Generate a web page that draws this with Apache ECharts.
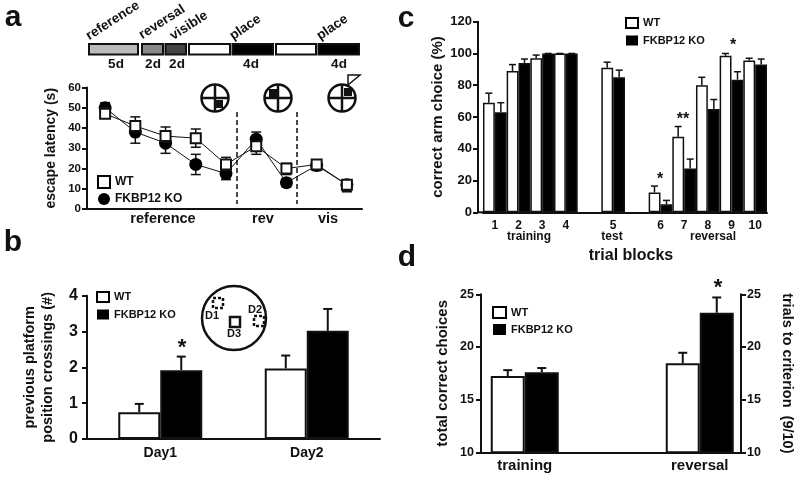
<!DOCTYPE html>
<html>
<head>
<meta charset="utf-8">
<style>html,body{margin:0;padding:0;background:#fff}#c{width:800px;height:477px}</style>
<script src="https://cdn.jsdelivr.net/npm/echarts@6/dist/echarts.min.js"></script>
</head>
<body>
<div id="c"></div>
<script>
// Panel a
const aDays = ['1','2','3','4','5','6','7','8','9'];
const aWT   = [47, 41, 36, 35, 22, 31, 20, 22, 12];
const aWTHi = [50, 45.5, 40.5, 39.5, 25.5, 33.5, 22.5, 24, 13];
const aWTLo = [45, 38, 33, 30.5, 19, 27, 17, 19.5, 9];
const aKO   = [50, 38, 32.5, 22, 17.5, 34.5, 13, 21.5, 12];
const aKOHi = [52.5, 41, 36, 27, 20, 38, 15, 24, 13.5];
const aKOLo = [47.5, 32.5, 27.5, 17, 14.5, 31, 11, 19, 8.5];
// Panel b
const bCats = ['Day1', 'Day2'];
const bWT   = [0.75, 1.97];
const bKO   = [1.92, 3.02];
const bWTHi = [0.98, 2.33];
const bKOHi = [2.3, 3.63];
// Panel c
const cCats = ['1','2','3','4','','5','','6','7','8','9','10'];
const cWT   = [69, 89, 97, 100, null, 91, null, 12.5, 47.5, 80, 98.5, 95.5];
const cKO   = [63, 94, 100, 100, null, 85, null, 5, 27.5, 65, 83.5, 93];
const cWTHi = [75, 93, 99, 100, null, 94.5, null, 16.5, 54, 85, 100, 97];
const cKOHi = [69, 96.5, 100, 100, null, 89.5, null, 7.5, 33.5, 71, 88.5, 96.5];
// Panel d
const dCats = ['', 'training', '', '', '', 'reversal', ''];
const dWT   = [null, 17.25, null, null, null, 18.45, null];
const dKO   = [null, 17.6, null, null, null, 23.25, null];
const dWTHi = [null, 17.8, null, null, null, 19.45, null];
const dKOHi = [null, 18, null, null, null, 24.7, null];

const FONT = '"Liberation Sans", Arial, sans-serif';
const INK = '#111';
const chart = echarts.init(document.getElementById('c'), null, {renderer: 'canvas'});

function errSeries(idx, low, high, dx, cap, lw, z) {
  const data = high.map((h, i) => [i, low ? low[i] : null, h, i]);
  return {
    type: 'custom', name: 'err', xAxisIndex: idx, yAxisIndex: idx, z: z, silent: true,
    data: data.filter(d => d[2] !== null),
    encode: {x: 0, y: [1, 2]},
    renderItem: function (params, api) {
      const i = api.value(0), hi = api.value(2), lo = api.value(1);
      const top = api.coord([i, hi]);
      const x = top[0] + dx;
      let lowY;
      if (low) { lowY = api.coord([i, lo])[1]; }
      else { lowY = api.coord([i, api.value(4)])[1]; }
      const st = {stroke: INK, lineWidth: lw, fill: null};
      const kids = [
        {type: 'line', shape: {x1: x, y1: top[1], x2: x, y2: lowY}, style: st},
        {type: 'line', shape: {x1: x - cap, y1: top[1], x2: x + cap, y2: top[1]}, style: st}
      ];
      if (low) kids.push({type: 'line', shape: {x1: x - cap, y1: lowY, x2: x + cap, y2: lowY}, style: st});
      return {type: 'group', children: kids};
    }
  };
}
function barErr(idx, vals, high, dx, cap, lw) {
  const data = high.map((h, i) => [i, null, h, i, vals[i]]).filter(d => d[2] !== null);
  const s = errSeries(idx, null, high, dx, cap, lw, 1);
  s.data = data;
  return s;
}
function barSeries(name, idx, vals, fill, w, bw) {
  return {
    type: 'bar', name: name, xAxisIndex: idx, yAxisIndex: idx, data: vals, barWidth: w, barGap: 0, z: 2,
    itemStyle: {color: fill, borderColor: INK, borderWidth: bw}
  };
}
function lineSeries(name, vals, sym, z) {
  return {
    type: 'line', name: name, xAxisIndex: 0, yAxisIndex: 0, data: vals, symbol: sym, symbolSize: sym === 'rect' ? 10 : 13, z: z,
    showAllSymbol: true, animation: false,
    lineStyle: {color: INK, width: 1},
    itemStyle: {color: sym === 'rect' ? '#fff' : '#000', borderColor: INK, borderWidth: sym === 'rect' ? 2 : 0}
  };
}
function yA(gridIndex, min, max, interval, size, margin, name, nameGap, nameSize, extra) {
  return Object.assign({
    type: 'value', gridIndex, min, max, interval,
    splitLine: {show: false},
    axisLine: {show: true, lineStyle: {color: INK, width: 2}},
    axisTick: {show: true, length: 5, lineStyle: {color: INK, width: 2}},
    axisLabel: {color: INK, fontFamily: FONT, fontWeight: 'bold', fontSize: size, margin: margin},
    name, nameLocation: 'middle', nameRotate: 90, nameGap,
    nameTextStyle: {color: INK, fontFamily: FONT, fontWeight: 'bold', fontSize: nameSize, lineHeight: 18}
  }, extra || {});
}
function xA(gridIndex, cats, size, margin, extra) {
  return Object.assign({
    type: 'category', gridIndex, data: cats,
    axisLine: {show: true, onZero: false, lineStyle: {color: INK, width: 2}},
    axisTick: {show: false},
    axisLabel: {show: size > 0, interval: 0, color: INK, fontFamily: FONT, fontWeight: 'bold', fontSize: size, margin: margin},
    splitLine: {show: false}
  }, extra || {});
}
function legendOf(left, top, w, h, gap, size, koIcon) {
  return {
    left, top, orient: 'vertical', itemWidth: w, itemHeight: h, itemGap: gap, selectedMode: false, padding: 0,
    textStyle: {color: INK, fontFamily: FONT, fontWeight: 'bold', fontSize: size},
    data: [
      {name: 'WT', icon: 'rect', itemStyle: {color: '#fff', borderColor: '#000', borderWidth: 2}},
      {name: 'FKBP12 KO', icon: koIcon, itemStyle: {color: '#000', borderColor: '#000', borderWidth: 0}}
    ]
  };
}
// decoration helpers
function T(text, x, y, size, opt) {
  opt = opt || {};
  return {type: 'text', x, y, rotation: opt.rot || 0, z: 20, silent: true,
    style: {text, fill: INK, font: (opt.weight || 'bold') + ' ' + size + 'px ' + FONT,
      align: opt.align || 'center', verticalAlign: opt.va || 'middle'}};
}
function R(x, y, w, h, fill, lw, dash) {
  return {type: 'rect', z: 20, silent: true, shape: {x, y, width: w, height: h},
    style: {fill, stroke: lw ? INK : null, lineWidth: lw || 0, lineDash: dash || null}};
}
function L(x1, y1, x2, y2, lw, dash) {
  return {type: 'line', z: 20, silent: true, shape: {x1, y1, x2, y2},
    style: {stroke: INK, lineWidth: lw, lineDash: dash || null}};
}
function Maze(cx, cy, r, sx, sy) {
  return [
    {type: 'circle', z: 20, silent: true, shape: {cx, cy, r}, style: {fill: '#fff', stroke: INK, lineWidth: 2.5}},
    L(cx - r, cy, cx + r, cy, 2.5), L(cx, cy - r, cx, cy + r, 2.5),
    R(sx - 4, sy - 4, 8, 8, '#111')
  ];
}
const graphics = [
  T('a', 13, 18, 30), T('b', 13, 243, 30), T('c', 406, 19, 30), T('d', 407, 258, 30),
  // schedule
  R(89, 44, 49, 10.5, '#bbb', 2), R(142, 44, 21, 10.5, '#888', 2), R(165.5, 44, 20.5, 10.5, '#444', 2),
  R(189, 44, 41, 10.5, '#fff', 2), R(232.5, 44, 40.5, 10.5, '#000', 2),
  R(276, 44, 40, 10.5, '#fff', 2), R(318.5, 44, 40.5, 10.5, '#000', 2),
  T('reference', 91, 43, 13.5, {rot: 0.57, align: 'left', va: 'bottom'}),
  T('reversal', 144, 42, 13.5, {rot: 0.57, align: 'left', va: 'bottom'}),
  T('visible', 175, 43, 13.5, {rot: 0.57, align: 'left', va: 'bottom'}),
  T('place', 235, 43, 13.5, {rot: 0.6, align: 'left', va: 'bottom'}),
  T('place', 322, 43, 13.5, {rot: 0.6, align: 'left', va: 'bottom'}),
  T('5d', 116, 64, 13.5), T('2d', 153, 64, 13.5), T('2d', 177, 64, 13.5), T('4d', 251, 64, 13.5), T('4d', 339, 64, 13.5),
  ...Maze(215, 98, 13.5, 219, 104), ...Maze(278, 98, 13.5, 273, 93), ...Maze(342, 98, 13.5, 348, 92),
  {type: 'polygon', z: 20, silent: true, shape: {points: [[348, 75], [360, 75], [348, 85]]}, style: {fill: '#fff', stroke: INK, lineWidth: 1.5}},
  L(237, 112, 237, 204, 1.5, [5, 3]), L(297, 112, 297, 204, 1.5, [5, 3]),
  L(86, 209, 91, 209, 2),
  T('reference', 163, 219, 14.5), T('rev', 263, 219, 14.5), T('vis', 328, 219, 14.5),
  // b inset
  {type: 'circle', z: 20, silent: true, shape: {cx: 234, cy: 318, r: 32}, style: {fill: '#fff', stroke: INK, lineWidth: 2.5}},
  R(213, 298, 10, 10, 'transparent', 2.5, [3, 2]), R(254, 316, 10, 10, 'transparent', 2.5, [3, 2]), R(230, 317, 10, 10, '#fff', 2.5),
  T('D1', 212, 316, 11), T('D2', 255, 310, 11), T('D3', 234, 334, 11),
  T('*', 182, 348, 22),
  // c
  L(477, 212.3, 484, 212.3, 2),
  T('training', 529, 237, 12), T('test', 612, 237, 12), T('reversal', 713, 237, 12),
  T('trial blocks', 631, 256, 16),
  T('*', 660, 180, 16), T('**', 683, 120, 16), T('*', 733, 46, 16),
  // d
  T('*', 718, 288, 22)
];

const option = {
  backgroundColor: '#fff',
  animation: false,
  grid: [
    {left: 90, top: 87.5, width: 272, height: 121.5},
    {left: 87, top: 295.7, width: 293, height: 143.3},
    {left: 483, top: 21.7, width: 284, height: 190.6},
    {left: 481, top: 294.3, width: 262.5, height: 158}
  ],
  xAxis: [
    xA(0, aDays, 0, 0),
    xA(1, bCats, 14, 7),
    xA(2, cCats, 12, 7),
    xA(3, dCats, 15, 6, {boundaryGap: false})
  ],
  yAxis: [
    yA(0, 0, 60, 10, 11.5, 6, 'escape latency (s)', 27, 14, {offset: 3}),
    yA(1, 0, 4, 1, 16, 9, 'previous platform\nposition crossings (#)', 30, 14.5),
    yA(2, 0, 120, 20, 13, 6, 'correct arm choice (%)', 28, 15, {offset: 5}),
    yA(3, 10, 25, 5, 12.5, 7, 'total correct choices', 29, 15),
    yA(3, 10, 25, 5, 12.5, 6, 'trials to criterion  (9/10)', 37, 14.5, {position: 'right', offset: -2.5, nameRotate: -90})
  ],
  legend: [
    legendOf(97, 175, 12, 12, 4, 12, 'circle'),
    legendOf(96, 291, 12, 10, 6, 11, 'rect'),
    legendOf(625, 17, 12, 10, 6, 11, 'rect'),
    legendOf(492, 306, 13, 11, 5, 11, 'rect')
  ],
  graphic: {elements: graphics},
  series: [
    errSeries(0, aKOLo, aKOHi, 0, 5, 1.5, 1),
    lineSeries('FKBP12 KO', aKO, 'circle', 2),
    errSeries(0, aWTLo, aWTHi, 0, 5, 1.5, 3),
    lineSeries('WT', aWT, 'rect', 4),

    barErr(1, bWT, bWTHi, -21, 4.5, 2),
    barErr(1, bKO, bKOHi, 21, 4.5, 2),
    barSeries('WT', 1, bWT, '#fff', 42, 2),
    barSeries('FKBP12 KO', 1, bKO, '#000', 42, 2),

    barErr(2, cWT, cWTHi, -6, 3.5, 1.5),
    barErr(2, cKO, cKOHi, 6, 3.5, 1.5),
    barSeries('WT', 2, cWT, '#fff', 11.85, 1.5),
    barSeries('FKBP12 KO', 2, cKO, '#000', 11.85, 1.5),

    barErr(3, dWT, dWTHi, -17, 4.5, 2),
    barErr(3, dKO, dKOHi, 17, 4.5, 2),
    barSeries('WT', 3, dWT, '#fff', 34, 2),
    barSeries('FKBP12 KO', 3, dKO, '#000', 34, 2)
  ]
};
chart.setOption(option);
</script>
</body>
</html>
